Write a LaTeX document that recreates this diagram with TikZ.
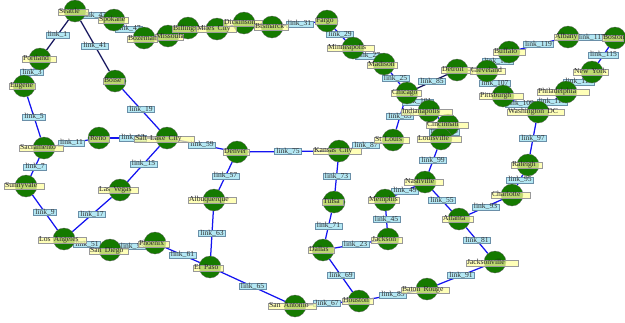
\documentclass[tikz,border=0pt]{standalone}
\usepackage{fontspec}
\setmainfont[WordSpace=1.7]{Liberation Serif}
\usetikzlibrary{positioning}
\definecolor{citygreen}{HTML}{157A00}
\definecolor{cityyellow}{HTML}{FFFF9C}
\definecolor{linkblue}{HTML}{B4E8F4}
\definecolor{linkedge}{HTML}{6A8FA8}
\definecolor{wireblue}{HTML}{1414F0}
\definecolor{wiredark}{HTML}{16165E}
\pgfdeclarelayer{wires}
\pgfsetlayers{wires,main}
\tikzstyle{city}=[circle, draw=black!60, line width=0.3pt, fill=citygreen, minimum size=22pt, inner sep=0pt]
\tikzstyle{citybox}=[rectangle, draw=black!40, line width=0.7pt, fill=cityyellow, fill opacity=0.72, text opacity=1, anchor=west, font=\fontsize{7.6}{8}\selectfont, inner xsep=0.8pt, inner ysep=0pt, text height=4.7pt, text depth=1.1pt, text=black!85]
\tikzstyle{linkbox}=[rectangle, draw=linkedge, line width=0.7pt, fill=linkblue, font=\fontsize{7.6}{8}\selectfont, inner xsep=1.8pt, inner ysep=0pt, text height=4.7pt, text depth=1.1pt, text=black!80]
\tikzstyle{wire}=[line width=1.25pt, wireblue]
\tikzstyle{darkwire}=[line width=1.25pt, wiredark]

\begin{document}
\begin{tikzpicture}[x=1pt,y=-1pt]
        \useasboundingbox (0,0) rectangle (625,322);

        \foreach \id/\x/\y in {
            Seattle/75/11, Spokane/114/20, Missoula/168/36, Bozeman/144/38, Billings/188/28,
            MilesCity/217/29, Dickinson/244/23, Bismarck/272/27, Fargo/327/21, Minneapolis/353/48,
            Madison/384/64, Chicago/407/93, Indianapolis/429/111, Cincinnati/448/125, Louisville/441/139,
            Detroit/457/70, Cleveland/487/71, Buffalo/509/52, Albany/568/37, Boston/615/38,
            NewYork/592/72, Philadelphia/566/92, Pittsburgh/503/96, Washington/538/112, Raleigh/528/165,
            Charlotte/512/195, Atlanta/459/219, Jacksonville/495/262, BatonRouge/427/289, Nashville/425/182,
            StLouis/393/140, Memphis/385/200, Jackson/388/239, Tulsa/334/202, KansasCity/339/151,
            Denver/237/152, Albuquerque/214/200, ElPaso/210/267, Dallas/323/250, Houston/359/301,
            SanAntonio/295/306, Phoenix/155/243, SanDiego/110/250, LosAngeles/64/239, Sunnyvale/26/186,
            LasVegas/120/190, Sacramento/44/148, Reno/99/138, SaltLake/167/138, Portland/40/59,
            Eugene/24/86, Boise/115/81}
            \node (\id) [city] at (\x,\y) {};

        \foreach \id/\x/\y/\w/\name in {
            Seattle/58/12/28/Seattle, Spokane/98/20/28/Spokane, Missoula/155/37/26/Missoula,
            Bozeman/127/39/28/Bozeman, Billings/172/29/24/Billings, MilesCity/196/29/38/Miles City,
            Dickinson/223/23/37/Dickinson, Bismarck/254/27/32/Bismarck, Fargo/315/21/20/Fargo,
            Minneapolis/327/48/45/Minneapolis, Madison/367/65/28/Madison, Chicago/391/93/28/Chicago,
            Indianapolis/401/112/49/Indianapolis, Cincinnati/426/125/40/Cincinnati, Louisville/417/139/42/Louisville,
            Detroit/441/70/29/Detroit, Cleveland/470/71/33/Cleveland, Buffalo/493/52/30/Buffalo,
            Albany/554/37/22/Albany, Boston/602/38/19/Boston, NewYork/573/72/33/New York,
            Philadelphia/537/92/50/Philadelphia, Pittsburgh/479/96/42/Pittsburgh, Washington/507/112/55/Washington DC,
            Raleigh/511/165/29/Raleigh, Charlotte/491/195/37/Charlotte, Atlanta/442/219/29/Atlanta,
            Jacksonville/466/263/50/Jacksonville, BatonRouge/401/290/46/Baton Rouge, Nashville/404/182/37/Nashville,
            StLouis/374/140/33/St Louis, Memphis/368/200/29/Memphis, Jackson/371/240/29/Jackson,
            Tulsa/322/202/19/Tulsa, KansasCity/313/151/46/Kansas City, Denver/223/152/24/Denver,
            Albuquerque/188/200/46/Albuquerque, ElPaso/193/268/28/El Paso, Dallas/308/250/24/Dallas,
            Houston/342/301/29/Houston, SanAntonio/268/306/46/San Antonio, Phoenix/138/244/29/Phoenix,
            SanDiego/89/251/37/San Diego, LosAngeles/38/240/46/Los Angeles, Sunnyvale/4/186/38/Sunnyvale,
            LasVegas/98/190/38/Las Vegas, Sacramento/19/148/42/Sacramento, Reno/89/139/18/Reno,
            SaltLake/134/139/58/Salt Lake City, Portland/22/59/32/Portland, Eugene/9/86/24/Eugene,
            Boise/103/81/19/Boise}
            \node (\id-label) [citybox] at (\x,\y) {\makebox[\w pt][l]{\name}};

        \begin{pgfonlayer}{wires}
            \foreach \a/\b/\n/\s in {
                Seattle/Portland/1/darkwire, Portland/Eugene/3/wire, Eugene/Sacramento/5/wire,
                Sacramento/Sunnyvale/7/wire, Sunnyvale/LosAngeles/9/wire, Sacramento/Reno/11/wire,
                Reno/SaltLake/13/wire, SaltLake/LasVegas/15/wire, LasVegas/LosAngeles/17/wire,
                Boise/SaltLake/19/wire, Dallas/Jackson/23/wire, Madison/Chicago/25/wire,
                Minneapolis/Madison/27/wire, Fargo/Minneapolis/29/wire, Bismarck/Fargo/31/wire,
                Seattle/Boise/41/darkwire, Seattle/Spokane/43/darkwire, Memphis/Jackson/45/wire,
                Spokane/Bozeman/47/wire, Memphis/Nashville/49/wire, LosAngeles/SanDiego/51/wire,
                SanDiego/Phoenix/53/wire, Nashville/Atlanta/55/wire, Denver/Albuquerque/57/wire,
                SaltLake/Denver/59/wire, Phoenix/ElPaso/61/wire, Albuquerque/ElPaso/63/wire,
                ElPaso/SanAntonio/65/wire, SanAntonio/Houston/67/wire, Dallas/Houston/69/wire,
                Tulsa/Dallas/71/wire, KansasCity/Tulsa/73/wire, Denver/KansasCity/75/wire,
                Atlanta/Jacksonville/81/wire, Chicago/StLouis/83/wire, Chicago/Detroit/85/darkwire,
                KansasCity/StLouis/87/wire, Houston/BatonRouge/89/wire, BatonRouge/Jacksonville/91/wire,
                Atlanta/Charlotte/93/wire, Charlotte/Raleigh/95/wire, Raleigh/Washington/97/wire,
                Louisville/Nashville/99/wire, Chicago/Indianapolis/101/wire, Cincinnati/Louisville/103/wire,
                Cleveland/Pittsburgh/107/wire, Cleveland/Buffalo/105/wire, Pittsburgh/Washington/109/wire,
                Washington/Philadelphia/111/wire, Philadelphia/NewYork/113/wire, NewYork/Boston/115/wire,
                Albany/Boston/117/wire, Buffalo/Albany/119/wire}
                \draw[\s] (\a) -- node[linkbox] (link\n) {link\_\n} (\b);

            \foreach \a/\b in {
                Bozeman/Missoula, Missoula/Billings, Billings/MilesCity, MilesCity/Dickinson,
                Dickinson/Bismarck, Indianapolis/Cincinnati}
                \draw[wire] (\a) -- (\b);
            \draw[darkwire] (Detroit) -- (Cleveland);
        \end{pgfonlayer}
    \end{tikzpicture}
\end{document}
